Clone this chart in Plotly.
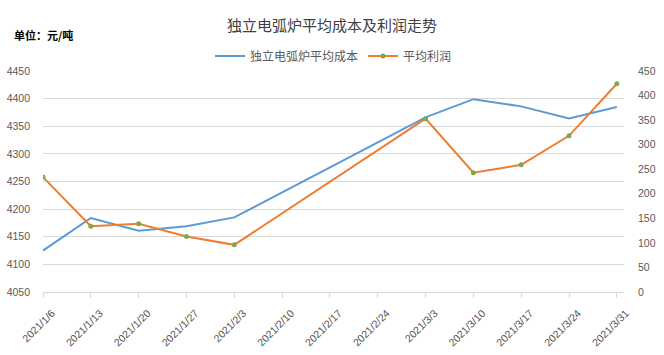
import plotly.graph_objects as go

categories = ["2021/1/6", "2021/1/13", "2021/1/20", "2021/1/27", "2021/2/3", "2021/2/10",
              "2021/2/17", "2021/2/24", "2021/3/3", "2021/3/10", "2021/3/17", "2021/3/24", "2021/3/31"]
cost = [4125, 4184, 4161, 4169, 4185, None, None, None, 4366, 4399, 4386, 4364, 4385]
profit = [234, 134, 139, 113, 96, None, None, None, 353, 243, 259, 318, 424]
left_ticks = [4050, 4100, 4150, 4200, 4250, 4300, 4350, 4400, 4450]
right_ticks = [0, 50, 100, 150, 200, 250, 300, 350, 400, 450]

CJK = "Noto Sans CJK SC"
NUM = "Liberation Sans, Arial, sans-serif"
GRID = "#D9D9D9"
TXT = "#595959"

fig = go.Figure()
fig.add_trace(go.Scatter(
    x=categories, y=cost, name="独立电弧炉平均成本", mode="lines",
    line=dict(color="#5B9BD5", width=2), connectgaps=True, yaxis="y"))
fig.add_trace(go.Scatter(
    x=categories, y=profit, name="平均利润", mode="lines+markers",
    line=dict(color="#ED7D31", width=2),
    marker=dict(color="#7FA84A", size=5),
    connectgaps=True, yaxis="y2"))

fig.update_layout(
    width=664, height=355,
    margin=dict(l=43, r=40, t=71, b=63),
    paper_bgcolor="white", plot_bgcolor="white",
    showlegend=True,
    legend=dict(orientation="h", x=0.5, xanchor="center", y=1.068, yanchor="middle",
                font=dict(family=CJK, size=12, color=TXT), itemwidth=30,
                tracegroupgap=0, bgcolor="rgba(0,0,0,0)"),
    title=dict(text="独立电弧炉平均成本及利润走势", x=0.5, xanchor="center",
               y=1 - 26 / 355, yanchor="middle",
               font=dict(family=CJK, size=15, color="#404040")),
    xaxis=dict(type="category", range=[0, 12.15], showgrid=False, automargin=False,
               showline=True, linecolor=GRID, linewidth=1,
               ticks="outside", ticklen=5, tickcolor=GRID,
               tickangle=-45, tickfont=dict(family=NUM, size=10.5, color="#505050"),
               ticklabelshift=9, ticklabelstandoff=5,
               zeroline=False),
    yaxis=dict(range=[4050, 4450], tickvals=left_ticks, showgrid=True, gridcolor=GRID,
               gridwidth=1, zeroline=False, showline=False, automargin=False,
               tickfont=dict(family=NUM, size=10.5, color=TXT), ticklabelstandoff=12),
    yaxis2=dict(range=[0, 450], tickvals=right_ticks, overlaying="y", side="right",
                showgrid=False, zeroline=False, showline=False, automargin=False,
                tickfont=dict(family=NUM, size=10.5, color=TXT), ticklabelstandoff=13),
    annotations=[dict(text="<b>单位：元/吨</b>", xref="paper", yref="paper",
                      x=(12 - 43) / 581, y=1 + (71 - 35) / 221,
                      xanchor="left", yanchor="middle", showarrow=False,
                      font=dict(family=CJK, size=11, color="#000000"))],
)

fig.write_html("out.html")
